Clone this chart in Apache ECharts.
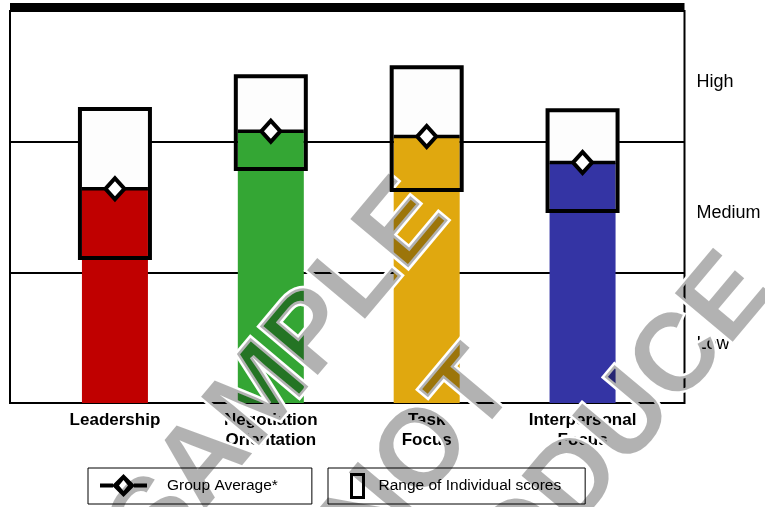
<!DOCTYPE html>
<html>
<head>
<meta charset="utf-8">
<script src="https://cdn.jsdelivr.net/npm/echarts@6/dist/echarts.min.js"></script>
<style>
  html, body { margin: 0; padding: 0; background: #fff; }
  #chart { width: 765px; height: 507px; }
</style>
</head>
<body>
<div id="chart"></div>
<script>
  // data (scale: 0 = bottom, 1 = Low/Medium, 2 = Medium/High, 3 = top)
  var categories = ['Leadership', 'Negotiation\nOrientation', 'Task\nFocus', 'Interpersonal\nFocus'];
  var groupAverage = [1.64, 2.08, 2.04, 1.84];
  var rangeLow = [1.11, 1.79, 1.63, 1.47];
  var rangeHigh = [2.25, 2.50, 2.57, 2.24];
  var levels = ['Low', 'Medium', 'High'];

  var barColors = ['#c00000', '#34a634', '#e0a80f', '#3434a4'];
  var FONT = 'Liberation Sans, Arial, sans-serif';

  var chart = echarts.init(document.getElementById('chart'));

  var rangeData = categories.map(function (c, i) { return [i, rangeLow[i], rangeHigh[i], groupAverage[i]]; });
  var avgData = categories.map(function (c, i) { return [i, groupAverage[i]]; });

  // legend glyphs: line with hollow diamond, hollow narrow rectangle
  var avgIcon = 'path://M0 9.5L13 9.5L13 13.5L0 13.5Z M34 9.5L47 9.5L47 13.5L34 13.5Z ' +
    'M23.5 0L35 11.5L23.5 23L12 11.5Z M23.5 6L19 11.5L23.5 17L28 11.5Z';
  var rangeIcon = 'path://M0 0L15 0L15 26L0 26Z M3 3L3 23L12 23L12 3Z';

  function watermark(text, x, y) {
    return {
      type: 'text', x: x, y: y, rotation: 50 * Math.PI / 180, z: 3, silent: true,
      style: {
        text: text, font: 'bold 110px ' + FONT, fill: 'rgba(0,0,0,0.3)',
        stroke: '#fff', lineWidth: 5, strokeFirst: true, align: 'center', verticalAlign: 'middle'
      }
    };
  }

  var option = {
    animation: false,
    backgroundColor: '#fff',
    textStyle: { fontFamily: FONT },
    grid: [
      { left: 10, right: 80.5, top: 11, bottom: 104, show: true, borderColor: '#000', borderWidth: 2, backgroundColor: 'transparent' },
      { left: 37, right: 104.5, top: 11, bottom: 104 }
    ],
    xAxis: [
      {
        gridIndex: 0, type: 'value', position: 'top', min: 0, max: 1, offset: 4,
        axisLine: { show: true, lineStyle: { color: '#000', width: 8, cap: 'butt' } },
        axisTick: { show: false }, axisLabel: { show: false }, splitLine: { show: false }
      },
      {
        gridIndex: 1, type: 'category', data: categories,
        axisLine: { show: false }, axisTick: { show: false },
        axisLabel: { color: '#000', fontSize: 17, fontWeight: 'bold', lineHeight: 20, margin: 7, fontFamily: FONT }
      }
    ],
    yAxis: [
      {
        gridIndex: 0, type: 'category', data: levels, position: 'right',
        axisLine: { show: false }, axisTick: { show: false },
        splitLine: { show: true, lineStyle: { color: '#000', width: 2 } },
        axisLabel: { color: '#000', fontSize: 18, margin: 12, align: 'left', verticalAlign: 'top', lineHeight: 12, fontFamily: FONT }
      },
      {
        gridIndex: 1, type: 'value', min: 0, max: 3,
        show: false, splitLine: { show: false }
      }
    ],
    legend: [
      {
        data: [{ name: 'Group Average*', icon: avgIcon }],
        left: 88, top: 468, orient: 'horizontal',
        padding: [6, 34, 7, 12],
        borderColor: '#000', borderWidth: 1,
        itemWidth: 47, itemHeight: 23,
        itemStyle: { color: '#000', borderWidth: 0 },
        selectedMode: false,
        textStyle: { fontSize: 15.5, color: '#000', fontFamily: FONT, padding: [0, 0, 0, 15] }
      },
      {
        data: [{ name: 'Range of Individual scores', icon: rangeIcon }],
        left: 328, top: 468, orient: 'horizontal',
        padding: [5, 24, 5, 22],
        borderColor: '#000', borderWidth: 1,
        itemWidth: 15, itemHeight: 26,
        itemStyle: { color: '#000', borderWidth: 0 },
        selectedMode: false,
        textStyle: { fontSize: 15.5, color: '#000', fontFamily: FONT, padding: [0, 0, 0, 8.5] }
      }
    ],
    series: [
      {
        name: 'Score',
        type: 'bar',
        xAxisIndex: 1, yAxisIndex: 1,
        barWidth: 66,
        data: groupAverage.map(function (v, i) {
          return { value: v, itemStyle: { color: barColors[i] } };
        }),
        z: 2
      },
      {
        name: 'Range of Individual scores',
        type: 'custom',
        xAxisIndex: 1, yAxisIndex: 1,
        itemStyle: { color: '#000' },
        encode: { x: 0, y: [1, 2] },
        data: rangeData,
        renderItem: function (params, api) {
          var lo = api.coord([api.value(0), api.value(1)]);
          var hi = api.coord([api.value(0), api.value(2)]);
          var av = api.coord([api.value(0), api.value(3)]);
          var half = 35;
          return {
            type: 'group',
            children: [
              {
                type: 'rect',
                shape: { x: lo[0] - half, y: hi[1], width: half * 2, height: av[1] - hi[1] },
                style: { fill: '#fdfdfd' }
              },
              {
                type: 'rect',
                shape: { x: lo[0] - half, y: hi[1], width: half * 2, height: lo[1] - hi[1] },
                style: { fill: 'none', stroke: '#000', lineWidth: 4 }
              }
            ]
          };
        },
        z: 4
      },
      {
        name: 'avgLine',
        type: 'custom',
        xAxisIndex: 1, yAxisIndex: 1,
        encode: { x: 0, y: 1 },
        data: avgData,
        renderItem: function (params, api) {
          var p = api.coord([api.value(0), api.value(1)]);
          return {
            type: 'line',
            shape: { x1: p[0] - 33, y1: p[1], x2: p[0] + 33, y2: p[1] },
            style: { stroke: '#000', lineWidth: 3.5 }
          };
        },
        z: 5
      },
      {
        name: 'Group Average*',
        type: 'scatter',
        xAxisIndex: 1, yAxisIndex: 1,
        symbol: 'diamond',
        symbolSize: [19, 21],
        itemStyle: { color: '#fff', borderColor: '#000', borderWidth: 4, opacity: 1 },
        data: avgData,
        z: 6
      }
    ],
    graphic: [
      watermark('SAMPLE', 280, 373),
      watermark('NOT', 421, 457),
      watermark('REPRODUCE', 526, 541)
    ]
  };

  chart.setOption(option);
</script>
</body>
</html>
